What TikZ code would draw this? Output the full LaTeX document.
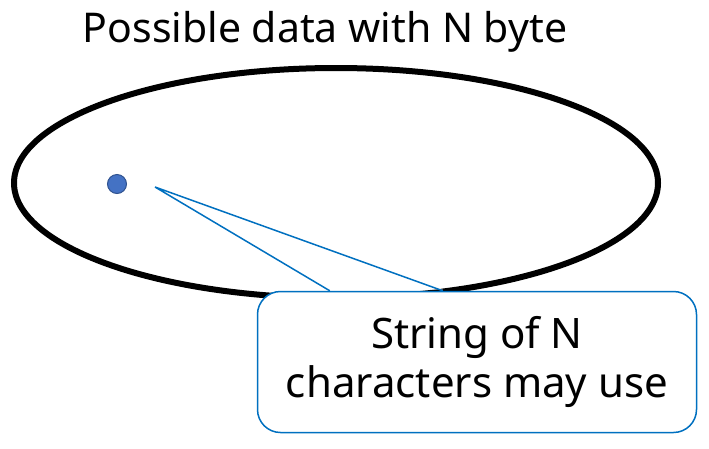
\documentclass[tikz,border=0pt]{standalone}
\usepackage{fontspec}
\setmainfont{Noto Sans}
\usetikzlibrary{shapes.geometric}
\definecolor{callblue}{HTML}{0070C0}
\definecolor{dotfill}{HTML}{4472C4}
\definecolor{dotline}{HTML}{2F528F}
\begin{document}
\begin{tikzpicture}[x=1pt,y=-1pt,
  setshape/.style={ellipse,draw=black,line width=6pt,minimum width=644pt,minimum height=230pt,inner sep=0pt},
  dotshape/.style={circle,fill=dotfill,draw=dotline,line width=1pt,minimum size=19pt,inner sep=0pt},
  calloutbox/.style={draw=callblue,fill=white,line width=1.5pt,rounded corners=23pt,minimum width=439pt,minimum height=141pt,inner sep=0pt,align=center,font=\fontsize{42}{49}\selectfont},
  pointer/.style={draw=callblue,line width=1.5pt,line join=miter},
  titletext/.style={font=\fontsize{41}{49}\selectfont,inner sep=0pt,anchor=base}]
\useasboundingbox (0,0) rectangle (709,448);
\node[titletext] (title) at (325,42) {Possible data with N byte};
\node[setshape] (set) at (336,183) {};
\node[dotshape] (dot) at (117,184) {};
\coordinate (tip) at (155,187);
\node[calloutbox] (call) at (477,362) {String of N\\characters may use};
\coordinate (b1) at ([xshift=73pt]call.north west);
\coordinate (b2) at ([xshift=186pt]call.north west);
\fill[white] (tip) -- ([yshift=1.5pt]b1) -- ([yshift=1.5pt]b2) -- cycle;
\draw[pointer] (b1) -- (tip) -- (b2);
\end{tikzpicture}
\end{document}
